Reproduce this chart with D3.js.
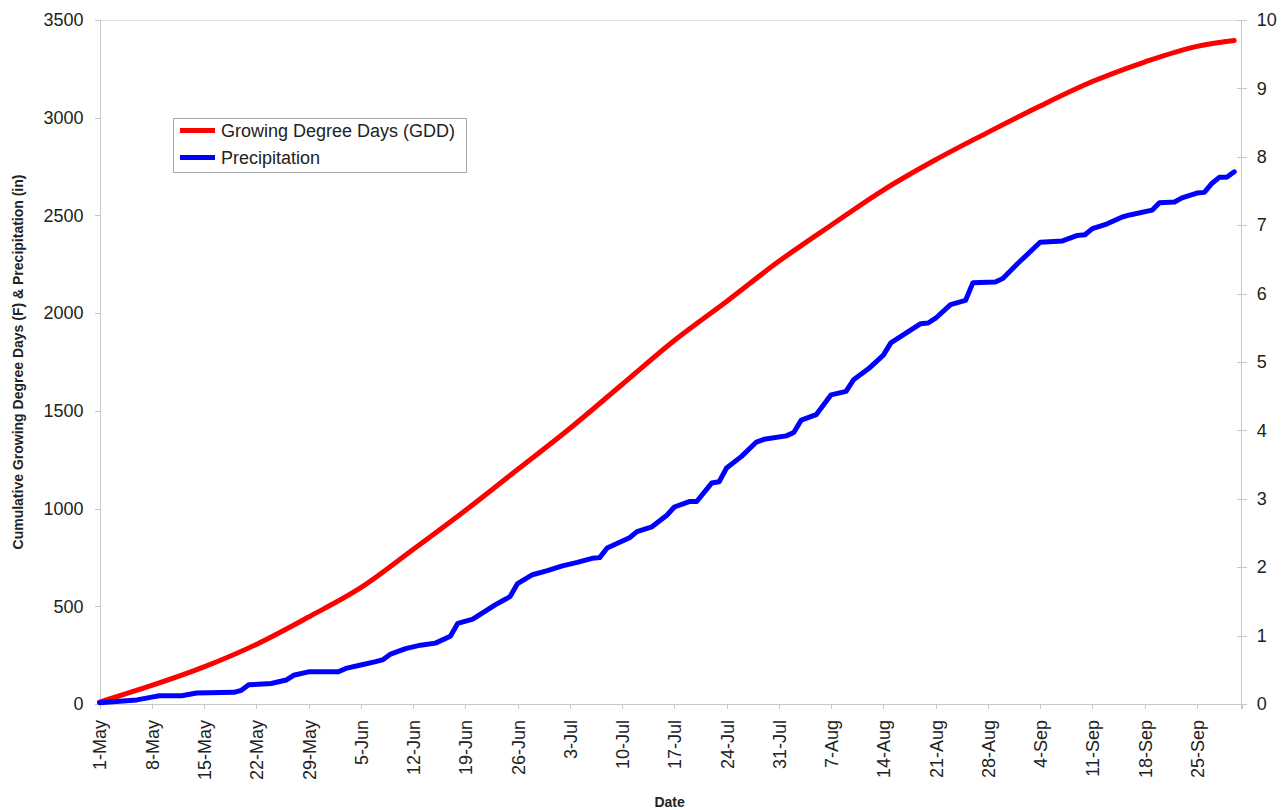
<!DOCTYPE html>
<html>
<head>
  <title>GDD & Precipitation</title>
  <script src="https://d3js.org/d3.v7.min.js"></script>
  <style>
    body { margin: 0; background: #fff; }
    svg { font-family: "Liberation Sans", Arial, sans-serif; }
    .axis path, .axis line {
      fill: none;
      stroke: #c8c8c8;
      shape-rendering: crispEdges;
    }
    .axis text {
      font-size: 18px;
      fill: #222;
    }
  </style>
</head>
<body>
  <div id="chart"></div>
  <script>
    // canvas
    const width = 1283;
    const height = 810;

    // plot area edges
    const plotLeft = 99.5, plotRight = 1241.7, plotTop = 20, plotBottom = 704;

    // cumulative GDD (F), days counted from 1-May
    const gddDay = [0, 7, 14, 21, 28, 35, 42, 49, 56, 63, 70, 77, 84, 91, 98, 105, 112, 119, 126, 133, 140, 147, 152];
    const gddVal = [10, 95, 190, 305, 445, 595, 790, 990, 1200, 1410, 1635, 1860, 2060, 2265, 2450, 2630, 2785, 2925, 3060, 3185, 3285, 3365, 3395];

    // cumulative precipitation (in), days counted from 1-May
    const precipDay = [0, 5, 7, 8, 11, 13, 18, 19, 20, 23, 25, 26, 28, 32, 33, 35, 37, 38, 39, 41, 43, 45, 47, 48, 50,
      53, 54, 55, 56, 58, 60, 62, 64, 66, 67, 68, 71, 72, 74, 76, 77, 79, 80, 82, 83, 84, 86, 88, 89, 92, 93, 94, 96,
      98, 100, 101, 103, 105, 106, 110, 111, 112, 114, 116, 117, 120, 121, 123, 126, 129, 131, 132, 133, 135, 137, 138,
      141, 142, 144, 145, 147, 148, 149, 150, 151, 152];
    const precipVal = [0.02, 0.06, 0.10, 0.12, 0.12, 0.16, 0.17, 0.20, 0.28, 0.30, 0.35, 0.42, 0.47, 0.47, 0.52, 0.57,
      0.62, 0.65, 0.73, 0.81, 0.86, 0.89, 0.99, 1.18, 1.24, 1.45, 1.51, 1.57, 1.76, 1.89, 1.95, 2.02, 2.07, 2.13, 2.14,
      2.28, 2.43, 2.52, 2.59, 2.76, 2.88, 2.96, 2.96, 3.23, 3.25, 3.45, 3.62, 3.83, 3.87, 3.92, 3.97, 4.15, 4.23, 4.52,
      4.57, 4.74, 4.90, 5.10, 5.28, 5.56, 5.57, 5.64, 5.84, 5.90, 6.16, 6.17, 6.22, 6.44, 6.75, 6.77, 6.85, 6.86, 6.95,
      7.02, 7.12, 7.15, 7.22, 7.33, 7.34, 7.40, 7.47, 7.48, 7.61, 7.70, 7.70, 7.78];

    // tick values
    const leftTicks = [0, 500, 1000, 1500, 2000, 2500, 3000, 3500];
    const rightTicks = [0, 1, 2, 3, 4, 5, 6, 7, 8, 9, 10];
    const dateTickDays = [0, 7, 14, 21, 28, 35, 42, 49, 56, 63, 70, 77, 84, 91, 98, 105, 112, 119, 126, 133, 140, 147];

    const start = new Date(Date.UTC(2008, 4, 1));
    const day = d => d3.utcDay.offset(start, d);

    const x = d3.scaleUtc()
      .domain([start, day(153)])
      .range([plotLeft, plotRight]);
    const yL = d3.scaleLinear().domain([0, 3500]).range([plotBottom, plotTop]);
    const yR = d3.scaleLinear().domain([0, 10]).range([plotBottom, plotTop]);

    const svg = d3.select("#chart")
      .append("svg")
      .attr("width", width)
      .attr("height", height);

    // faint top border of the plot area
    svg.append("line")
      .attr("x1", plotLeft).attr("x2", plotRight)
      .attr("y1", plotTop).attr("y2", plotTop)
      .attr("stroke", "#e4e4e4")
      .attr("shape-rendering", "crispEdges");

    // x axis
    const xAxis = d3.axisBottom(x)
      .tickValues(dateTickDays.map(day))
      .tickFormat(d3.utcFormat("%-d-%b"))
      .tickSize(5);
    const xg = svg.append("g")
      .attr("class", "axis")
      .attr("transform", `translate(0,${plotBottom})`)
      .call(xAxis);
    xg.selectAll("text")
      .attr("transform", "rotate(-90)")
      .attr("x", -16)
      .attr("y", 0)
      .attr("dy", "0.36em")
      .attr("text-anchor", "end");

    // left axis
    svg.append("g")
      .attr("class", "axis")
      .attr("transform", `translate(${plotLeft},0)`)
      .call(d3.axisLeft(yL).tickValues(leftTicks).tickFormat(d3.format("d")).tickSize(5).tickPadding(11));

    // right axis, ticks cross the line
    const rg = svg.append("g")
      .attr("class", "axis")
      .attr("transform", `translate(${plotRight},0)`)
      .call(d3.axisRight(yR).tickValues(rightTicks).tickFormat(d3.format("d")).tickSize(5).tickPadding(10));
    rg.selectAll(".tick line").attr("x1", -5).attr("x2", 5);
    rg.select(".domain").attr("d", `M0,${plotTop}V${plotBottom + 5}`);

    // lines
    const gddLine = d3.line()
      .x((d, i) => x(day(gddDay[i])))
      .y(d => yL(d))
      .curve(d3.curveMonotoneX);
    svg.append("path")
      .datum(gddVal)
      .attr("d", gddLine)
      .attr("fill", "none")
      .attr("stroke", "#ff0000")
      .attr("stroke-width", 5)
      .attr("stroke-linecap", "round");

    const precipLine = d3.line()
      .x((d, i) => x(day(precipDay[i])))
      .y(d => yR(d));
    svg.append("path")
      .datum(precipVal)
      .attr("d", precipLine)
      .attr("fill", "none")
      .attr("stroke", "#0000ff")
      .attr("stroke-width", 5)
      .attr("stroke-linejoin", "round")
      .attr("stroke-linecap", "round");

    // axis titles
    svg.append("text")
      .attr("x", (plotLeft + plotRight) / 2 - 1)
      .attr("y", 807)
      .attr("text-anchor", "middle")
      .attr("font-size", 14)
      .attr("font-weight", "bold")
      .attr("fill", "#222")
      .text("Date");
    svg.append("text")
      .attr("transform", `translate(23,${(plotTop + plotBottom) / 2}) rotate(-90)`)
      .attr("text-anchor", "middle")
      .attr("font-size", 14)
      .attr("font-weight", "bold")
      .attr("fill", "#222")
      .text("Cumulative Growing Degree Days (F) & Precipitation (in)");

    // legend
    const legend = svg.append("g").attr("transform", "translate(173,118)");
    legend.append("rect")
      .attr("width", 293).attr("height", 54)
      .attr("fill", "#fff")
      .attr("stroke", "#a8a8a8")
      .attr("shape-rendering", "crispEdges");
    const items = [["Growing Degree Days (GDD)", "#ff0000"], ["Precipitation", "#0000ff"]];
    items.forEach(([label, color], i) => {
      const yy = 12.5 + i * 27;
      legend.append("line")
        .attr("x1", 7).attr("x2", 42)
        .attr("y1", yy).attr("y2", yy)
        .attr("stroke", color)
        .attr("stroke-width", 5);
      legend.append("text")
        .attr("x", 48).attr("y", yy)
        .attr("dy", "0.35em")
        .attr("font-size", 18)
        .attr("fill", "#222")
        .text(label);
    });
  </script>
</body>
</html>
